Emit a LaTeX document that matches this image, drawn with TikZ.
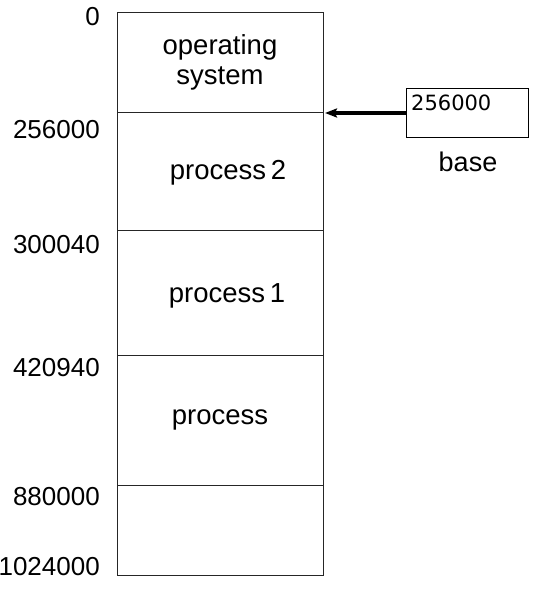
\documentclass[tikz,border=0pt]{standalone}
\usepackage{fontspec}
\setmainfont{Liberation Sans}
\newfontfamily\monofont{DejaVu Sans}
\usetikzlibrary{arrows.meta}
\begin{document}
\begin{tikzpicture}[x=1pt,y=-1pt,
  addr/.style={anchor=east,font=\fontsize{26}{30}\selectfont,inner sep=0pt},
  inner/.style={align=center,font=\fontsize{27.5}{30}\selectfont,inner sep=0pt},
  mem/.style={draw=black!85,line width=1.3pt}]
\useasboundingbox (0,0) rectangle (558,597);
% memory blocks
\node[mem,minimum width=206pt,minimum height=100pt,anchor=north west] (os) at (117,12) {};
\node[mem,minimum width=206pt,minimum height=118pt,anchor=north west] (p2) at (117,112) {};
\node[mem,minimum width=206pt,minimum height=125pt,anchor=north west] (p1) at (117,230) {};
\node[mem,minimum width=206pt,minimum height=130pt,anchor=north west] (p0) at (117,355) {};
\node[mem,minimum width=206pt,minimum height=90pt,anchor=north west] (free) at (117,485) {};
% texts
\node[inner] (tos) at (220,62) {operating\\system};
\node[inner] (tp2) at (228,173) {process\,2};
\node[inner] (tp1) at (227,296) {process\,1};
\node[inner] (tp0) at (220,420) {process};
% addresses
\node[addr] (a0) at (100,17) {0};
\node[addr] (a1) at (100,130) {256000};
\node[addr] (a2) at (100,245) {300040};
\node[addr] (a3) at (100,368) {420940};
\node[addr] (a4) at (100,497) {880000};
\node[addr] (a5) at (100,567) {1024000};
% base register
\node[draw=black,line width=1.2pt,minimum width=122pt,minimum height=49pt,anchor=north west] (reg) at (406,88) {};
\node[anchor=north west,inner sep=0pt,font=\monofont\fontsize{21}{24}\selectfont] (regval) at (411,95) {256000};
\node[font=\fontsize{27}{30}\selectfont,inner sep=0pt] (base) at (468,162) {base};
\coordinate (tip) at (325,113);
\draw[line width=3.2pt,-{Stealth[length=12pt,width=9pt,inset=2pt]}] (reg.west |- tip) -- (tip);
\end{tikzpicture}
\end{document}
